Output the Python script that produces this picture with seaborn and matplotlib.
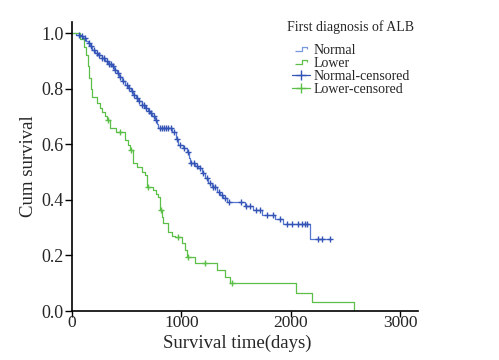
import pandas as pd
import matplotlib.pyplot as plt
import numpy as np
import seaborn as sns
from matplotlib.lines import Line2D
from matplotlib.path import Path

# Kaplan-Meier steps (days, cumulative survival)
normal_t = [0, 40, 73, 103, 130, 149, 165, 180, 210, 240, 270, 302, 330, 363, 385, 408,
            430, 454, 485, 515, 540, 560, 585, 606, 635, 667, 690, 713, 735, 759, 775,
            789, 910, 950, 972, 1010, 1048, 1065, 1079, 1120, 1155, 1190, 1216, 1245,
            1277, 1323, 1355, 1383, 1414, 1581, 1657, 1734, 1856, 1931, 2176, 2358]
normal_s = [1.0, 0.995, 0.99, 0.982, 0.972, 0.964, 0.952, 0.94, 0.93, 0.922, 0.91, 0.898,
            0.89, 0.88, 0.868, 0.856, 0.842, 0.826, 0.815, 0.802, 0.79, 0.778, 0.766,
            0.754, 0.742, 0.73, 0.72, 0.712, 0.70, 0.688, 0.672, 0.658, 0.645, 0.62,
            0.597, 0.585, 0.573, 0.55, 0.531, 0.522, 0.513, 0.495, 0.477, 0.462, 0.447,
            0.429, 0.418, 0.405, 0.393, 0.378, 0.363, 0.345, 0.33, 0.313, 0.258, 0.258]
normal_cens = [60, 90, 120, 155, 170, 200, 225, 250, 275, 295, 320, 340, 355, 375, 395,
               420, 440, 465, 500, 525, 545, 570, 595, 615, 640, 655, 680, 700, 720, 745,
               765, 800, 820, 840, 860, 880, 900, 930, 960, 990, 1020, 1055, 1090, 1110,
               1140, 1165, 1200, 1230, 1260, 1290, 1310, 1340, 1370, 1400, 1430, 1540,
               1590, 1630, 1685, 1720, 1780, 1840, 1900, 1962, 2008, 2060, 2100, 2130,
               2150, 2251, 2282, 2358]

lower_t = [0, 70, 110, 128, 146, 155, 174, 183, 228, 256, 274, 302, 320, 347, 400, 484,
           512, 530, 558, 594, 640, 667, 686, 740, 768, 786, 804, 823, 832, 877, 914,
           941, 1005, 1033, 1051, 1124, 1325, 1398, 1444, 2048, 2190, 2578]
lower_s = [1.0, 0.98, 0.95, 0.92, 0.88, 0.84, 0.80, 0.77, 0.75, 0.73, 0.716, 0.70, 0.687,
           0.658, 0.644, 0.615, 0.597, 0.58, 0.532, 0.518, 0.50, 0.489, 0.446, 0.435,
           0.42, 0.41, 0.363, 0.34, 0.317, 0.284, 0.27, 0.266, 0.245, 0.219, 0.194,
           0.173, 0.148, 0.122, 0.10, 0.066, 0.033, 0.0]
lower_cens = [325, 439, 535, 690, 813, 968, 1060, 1216, 1463]


def surv_at(t, times, surv):
    idx = np.searchsorted(times, t, side='right') - 1
    return np.asarray(surv)[idx]


c_norm_line = '#5577d0'
c_norm_mark = '#3353b5'
c_low = '#5cbf48'

sns.set_style('ticks')
plt.rcParams['font.family'] = ['Liberation Serif', 'DejaVu Serif']

fig = plt.figure(figsize=(4.99, 3.6), dpi=100)
ax = fig.add_axes([72 / 499, 1 - 311 / 360, 346 / 499, 289 / 360])

curves = pd.concat([
    pd.DataFrame({'days': normal_t, 'surv': normal_s, 'group': 'Normal'}),
    pd.DataFrame({'days': lower_t, 'surv': lower_s, 'group': 'Lower'}),
])
sns.lineplot(data=curves, x='days', y='surv', hue='group', estimator=None,
             palette={'Normal': c_norm_line, 'Lower': c_low}, drawstyle='steps-post',
             linewidth=0.9, legend=False, ax=ax)

sns.scatterplot(x=normal_cens, y=surv_at(normal_cens, normal_t, normal_s), marker='+',
                color=c_norm_mark, s=20, linewidth=1.0, ax=ax, zorder=3)
sns.scatterplot(x=lower_cens, y=surv_at(lower_cens, lower_t, lower_s), marker='+',
                color=c_low, s=20, linewidth=1.0, ax=ax, zorder=3)

ax.set_xlim(0, 3160)
ax.set_ylim(0, 1.04)
ax.set_xticks([0, 1000, 2000, 3000])
ax.set_yticks([0, 0.2, 0.4, 0.6, 0.8, 1.0])
ax.set_yticklabels(['0.0', '0.2', '0.4', '0.6', '0.8', '1.0'])
ax.tick_params(labelsize=13, length=5, width=1.0, color='black')
ax.tick_params(axis='x', labelsize=12.5, length=4, pad=-1)
ax.tick_params(axis='y', pad=1)
sns.despine(ax=ax)
for s in ['left', 'bottom']:
    ax.spines[s].set_linewidth(1.2)
    ax.spines[s].set_color('black')

ax.set_xlabel('Survival time(days)', fontsize=13.5)
ax.set_ylabel('Cum survival', fontsize=13.5)
ax.xaxis.set_label_coords(0.478, -0.082)
ax.yaxis.set_label_coords(-0.10, 0.5)

step = Path([(-1, -0.35), (0.1, -0.35), (0.1, 0.35), (0.9, 0.35), (0.9, 0.0)])
handles = [
    Line2D([], [], color='#7797e0', marker=step, markersize=9, markerfacecolor='none',
           linestyle='none', markeredgewidth=0.9),
    Line2D([], [], color=c_low, marker=step, markersize=9, markerfacecolor='none',
           linestyle='none', markeredgewidth=0.9),
    Line2D([], [], color=c_norm_mark, marker='+', markersize=7, linewidth=0.9,
           markeredgewidth=1.0),
    Line2D([], [], color=c_low, marker='+', markersize=7, linewidth=0.9,
           markeredgewidth=1.0),
]
fig.text(287 / 499, 1 - 27 / 360, 'First diagnosis of ALB', fontsize=10, va='center')
fig.legend(handles, ['Normal', 'Lower', 'Normal-censored', 'Lower-censored'],
           loc='upper left', bbox_to_anchor=(292 / 499, 1 - 44 / 360), frameon=False,
           fontsize=10, borderpad=0, borderaxespad=0, labelspacing=0.0,
           handlelength=1.3, handletextpad=0.25)

fig.savefig('out.png', dpi=100)
